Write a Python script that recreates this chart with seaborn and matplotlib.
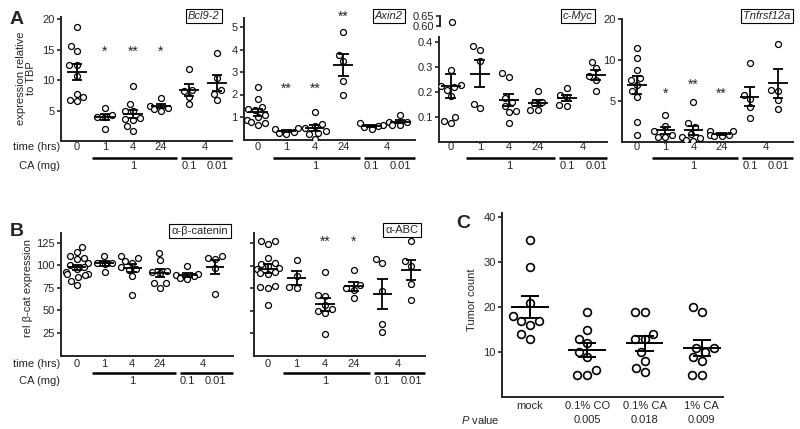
import numpy as np
import pandas as pd
import seaborn as sns
import matplotlib.pyplot as plt
from matplotlib.transforms import blended_transform_factory

W, H = 800, 429

# groups shared by the A and B panels (time in hrs / CA dose in mg)
a_groups = ["0h", "1h", "4h", "24h", "4h_0.1", "4h_0.01"]
time_labels = ["0", "1", "4", "24"]
pooled_time = "4"
dose_labels = ["1", "0.1", "0.01"]

bcl92 = [
    [18.7, 15.6, 14.8, 12.5, 12.5, 10.6, 7.8, 7.2, 6.7, 6.5],
    [5.4, 4.0, 3.9, 4.3, 2.0],
    [9.1, 6.0, 4.9, 5.0, 3.6, 3.8, 3.5, 2.4, 1.6],
    [7.1, 5.8, 5.5, 5.2, 5.0],
    [11.9, 8.4, 8.2, 7.3, 6.0],
    [14.5, 10.3, 8.4, 7.8, 6.7],
]
bcl92_stars = ["", "*", "**", "*", "", ""]
bcl92_star_y = [0, 14.6, 14.6, 14.6, 0, 0]

axin2 = [
    [2.35, 1.8, 1.45, 1.35, 1.3, 1.1, 1.0, 0.85, 0.8, 0.75, 0.65],
    [0.52, 0.45, 0.35, 0.3, 0.25],
    [1.22, 0.68, 0.58, 0.52, 0.4, 0.3, 0.25, 0.02],
    [4.76, 3.76, 3.49, 2.6, 1.98],
    [0.72, 0.65, 0.6, 0.55, 0.45],
    [1.1, 0.8, 0.78, 0.66, 0.64],
]
axin2_stars = ["", "**", "**", "**", "", ""]
axin2_star_y = [0, 2.25, 2.25, 5.45, 0, 0]

cmyc = [
    [0.62, 0.29, 0.23, 0.225, 0.22, 0.21, 0.185, 0.1, 0.085, 0.075],
    [0.37, 0.385, 0.325, 0.135, 0.152],
    [0.275, 0.262, 0.175, 0.16, 0.145, 0.125, 0.12, 0.075],
    [0.205, 0.16, 0.155, 0.13, 0.13],
    [0.215, 0.19, 0.182, 0.15, 0.145],
    [0.32, 0.295, 0.265, 0.25, 0.205],
]

tnfrsf12a = [
    [13.0, 10.6, 8.8, 7.8, 7.6, 7.0, 6.2, 5.5, 2.4, 0.8],
    [3.3, 1.9, 1.3, 0.9, 0.6, 0.55],
    [4.9, 2.3, 1.8, 1.0, 0.6, 0.5, 0.2, 0.15],
    [1.4, 1.3, 0.9, 0.8, 0.75, 0.7],
    [9.6, 5.7, 5.2, 4.3, 2.9],
    [14.0, 6.4, 6.2, 5.1, 4.0],
]
tnf_stars = ["", "*", "**", "**", "", ""]
tnf_star_y = [0, 5.85, 6.95, 5.85, 0, 0]

b_catenin = [
    [120, 115, 110, 108, 107, 103, 100, 98, 96, 93, 91, 90, 89, 87, 83, 78],
    [110, 103, 103, 102, 93],
    [110, 108, 105, 103, 98, 96, 95, 88, 67],
    [114, 106, 94, 93, 92, 80, 80, 75],
    [99, 90, 89, 88, 86, 85],
    [111, 108, 107, 97, 68],
]
abc = [
    [127, 124, 127, 108, 103, 102, 99, 97, 96, 93, 92, 91, 77, 76, 75, 56],
    [106, 88, 76, 75],
    [93, 67, 66, 56, 52, 50, 48, 24],
    [95, 78, 75, 73, 64],
    [107, 103, 72, 35, 27],
    [127, 105, 100, 80, 62],
]
abc_stars = ["", "", "**", "*", "", ""]
abc_star_y = [0, 0, 126.7, 126.7, 0, 0]

c_groups = ["mock", "0.1% CO", "0.1% CA", "1% CA"]
tumor_counts = [
    [35, 29, 21, 18, 17, 17, 16, 14, 13],
    [19, 15, 13, 12, 10, 9, 6, 5, 5],
    [19, 19, 14, 13, 13, 10, 8, 6.5, 5.5],
    [20, 19, 11, 11, 10, 9, 8, 5, 5],
]
p_values = ["", "0.005", "0.018", "0.009"]


def to_long(values, groups):
    rows = [(g, v) for g, vals in zip(groups, values) for v in vals]
    return pd.DataFrame(rows, columns=["group", "value"])


def add_axes(fig, left, right, top, bottom):
    # pixel box -> figure fraction
    return fig.add_axes([left / W, 1 - bottom / H, (right - left) / W, (bottom - top) / H])


def mean_sem(ax, df, order, half=0.34, cap=0.19, lw=1.3):
    stats = df.groupby("group")["value"].agg(["mean", "sem"]).reindex(order)
    x = np.arange(len(order))
    m, s = stats["mean"].values, stats["sem"].values
    ax.hlines(m, x - half, x + half, color="black", lw=lw, zorder=4)
    ax.vlines(x, m - s, m + s, color="black", lw=lw, zorder=4)
    ax.hlines(m + s, x - cap, x + cap, color="black", lw=lw, zorder=4)
    ax.hlines(m - s, x - cap, x + cap, color="black", lw=lw, zorder=4)


def style_axes(ax):
    sns.despine(ax=ax)
    for s in ("left", "bottom"):
        ax.spines[s].set_linewidth(1.4)
    ax.tick_params(axis="y", direction="out", length=3, width=1.2, labelsize=8, pad=1.5)
    ax.set_xticks([])
    ax.set_xlabel("")
    ax.set_ylabel("")


def dot_panel(ax, values, groups, size=4.3, edge=0.9, with_stats=True, **kw):
    df = to_long(values, groups)
    sns.swarmplot(data=df, x="group", y="value", order=groups, ax=ax, size=size,
                  color="white", edgecolor="black", linewidth=edge, zorder=3, warn_thresh=1)
    if with_stats:
        mean_sem(ax, df, groups, **kw)
    style_axes(ax)


def add_stars(ax, stars, ys):
    for i, (s, y) in enumerate(zip(stars, ys)):
        if s:
            ax.text(i, y, s, ha="center", va="center", fontsize=10, clip_on=False)


def dose_rows(fig, ax, y_time, y_line, y_dose, row_names=False):
    tr = blended_transform_factory(ax.transData, fig.transFigure)
    for i, lab in enumerate(time_labels):
        ax.text(i, 1 - y_time / H, lab, transform=tr, ha="center", va="center", fontsize=8)
    ax.text(4.55, 1 - y_time / H, pooled_time, transform=tr, ha="center", va="center", fontsize=8)
    right = ax.get_xlim()[1]
    for x0, x1 in [(0.53, 3.58), (3.72, right)]:
        ax.plot([x0, x1], [1 - y_line / H] * 2, transform=tr, color="black", lw=1.8,
                clip_on=False, solid_capstyle="butt")
    for x, lab in zip([2, 4, 5], dose_labels):
        ax.text(x, 1 - y_dose / H, lab, transform=tr, ha="center", va="center", fontsize=8)
    if row_names:
        fig.text(60 / W, 1 - y_time / H, "time (hrs)", ha="right", va="center", fontsize=8)
        fig.text(60 / W, 1 - y_dose / H, "CA (mg)", ha="right", va="center", fontsize=8)


def name_box(fig, x, y, text, italic=True):
    fig.text(x / W, 1 - y / H, text, ha="center", va="center", fontsize=8,
             style="italic" if italic else "normal",
             bbox=dict(boxstyle="square,pad=0.2", fc="white", ec="black", lw=0.8))


def seg_fwd(v):
    v = np.asarray(v, dtype=float)
    return np.where(v <= 10, v, 10 + (v - 10) / 2)


def seg_inv(t):
    t = np.asarray(t, dtype=float)
    return np.where(t <= 10, t, 10 + (t - 10) * 2)


sns.set_style("ticks")
plt.rcParams["font.family"] = ["Liberation Sans", "DejaVu Sans"]
plt.rcParams["font.size"] = 8
plt.rcParams["mathtext.fontset"] = "custom"
plt.rcParams["mathtext.rm"] = "Liberation Sans"
plt.rcParams["mathtext.it"] = "Liberation Sans:italic"

fig = plt.figure(figsize=(W / 100, H / 100), dpi=100)

# ---- A: Bcl9-2
ax1 = add_axes(fig, 61, 232, 17.4, 141)
dot_panel(ax1, bcl92, a_groups)
ax1.set_ylim(0, 20.3)
ax1.set_yticks([5, 10, 15, 20])
ax1.set_xlim(-0.571, 5.536)
add_stars(ax1, bcl92_stars, bcl92_star_y)
dose_rows(fig, ax1, 147, 157.5, 166, row_names=True)
name_box(fig, 204, 16, "Bcl9-2")

# ---- A: Axin2
ax2 = add_axes(fig, 244, 415, 18, 139.5)
dot_panel(ax2, axin2, a_groups)
ax2.set_ylim(0, 5.4)
ax2.set_yticks([1, 2, 3, 4, 5])
ax2.set_xlim(-0.49, 5.53)
add_stars(ax2, axin2_stars, axin2_star_y)
dose_rows(fig, ax2, 147, 157.5, 166)
name_box(fig, 389, 16, "Axin2")

# ---- A: c-Myc (broken axis)
ax3 = add_axes(fig, 439, 607, 37, 142)
dot_panel(ax3, cmyc, a_groups)
ax3.set_ylim(0, 0.42)
ax3.set_yticks([0.1, 0.2, 0.3, 0.4])
ax3.set_yticklabels(["0.1", "0.2", "0.3", "0.4"])
ax3.set_xlim(-0.41, 5.38)
dose_rows(fig, ax3, 147, 157.5, 166)

ax3t = add_axes(fig, 440, 607, 15.6, 26.4)
dot_panel(ax3t, cmyc, a_groups, with_stats=False)
ax3t.spines["bottom"].set_visible(False)
ax3t.set_ylim(0.598, 0.652)
ax3t.set_yticks([0.60, 0.65])
ax3t.set_yticklabels(["0.60", "0.65"])
ax3t.set_xlim(-0.41, 5.38)
ax3t.patch.set_alpha(0)
name_box(fig, 578, 16, "c-Myc")

# ---- A: Tnfrsf12a (segmented axis)
ax4 = add_axes(fig, 622, 793, 19, 142)
ax4.set_yscale("function", functions=(seg_fwd, seg_inv))
dot_panel(ax4, tnfrsf12a, a_groups)
ax4.set_ylim(0, 20)
ax4.set_yticks([5, 10, 20])
ax4.set_yticklabels(["5", "10", "20"])
ax4.minorticks_off()
ax4.set_xlim(-0.53, 5.53)
add_stars(ax4, tnf_stars, tnf_star_y)
dose_rows(fig, ax4, 147, 157.5, 166)
name_box(fig, 767, 16, "Tnfrsf12a")

fig.text(26 / W, 1 - 78 / H, "expression relative\nto TBP", rotation=90, ha="center",
         va="center", fontsize=8, linespacing=1.05, multialignment="center")
fig.text(10 / W, 1 - 24 / H, "A", fontsize=14, fontweight="bold", ha="left", va="baseline")

# ---- B: alpha-beta-catenin
ax5 = add_axes(fig, 61, 233, 233, 355.5)
dot_panel(ax5, b_catenin, a_groups)
ax5.set_ylim(0, 136)
ax5.set_yticks([25, 50, 75, 100, 125])
ax5.set_xlim(-0.58, 5.65)
dose_rows(fig, ax5, 364, 373, 381.5, row_names=True)
name_box(fig, 200, 231, "\u03b1-\u03b2-catenin", italic=False)

# ---- B: alpha-ABC
ax6 = add_axes(fig, 254, 425, 233, 356)
dot_panel(ax6, abc, a_groups)
ax6.set_ylim(0, 136)
ax6.set_yticks([25, 50, 75, 100, 125])
ax6.set_yticklabels([])
ax6.set_xlim(-0.49, 5.49)
add_stars(ax6, abc_stars, abc_star_y)
dose_rows(fig, ax6, 364, 373, 381.5)
name_box(fig, 402, 230, "\u03b1-ABC", italic=False)

fig.text(28 / W, 1 - 288 / H, "rel \u03b2-cat expression", rotation=90, ha="center",
         va="center", fontsize=8)
fig.text(10 / W, 1 - 236 / H, "B", fontsize=14, fontweight="bold", ha="left", va="baseline")

# ---- C: tumor counts
ax7 = add_axes(fig, 502, 723, 213, 397)
dot_panel(ax7, tumor_counts, c_groups, size=5.6, edge=1.2, half=0.33, cap=0.16, lw=1.4)
ax7.set_ylim(0, 41)
ax7.set_yticks([10, 20, 30, 40])
ax7.set_xlim(-0.49, 3.37)
ax7.set_xticks(range(len(c_groups)))
ax7.set_xticklabels(c_groups, fontsize=8)
ax7.tick_params(axis="x", length=0, pad=3)
trc = blended_transform_factory(ax7.transData, fig.transFigure)
for i, p in enumerate(p_values):
    if p:
        ax7.text(i, 1 - 420 / H, p, transform=trc, ha="center", va="center", fontsize=8)
fig.text(500 / W, 1 - 420 / H, "$P$ value", ha="right", va="center", fontsize=8)
fig.text(472 / W, 1 - 300 / H, "Tumor count", rotation=90, ha="center", va="center", fontsize=8)
fig.text(456 / W, 1 - 228 / H, "C", fontsize=14, fontweight="bold", ha="left", va="baseline")

fig.savefig("out.png", dpi=100)
